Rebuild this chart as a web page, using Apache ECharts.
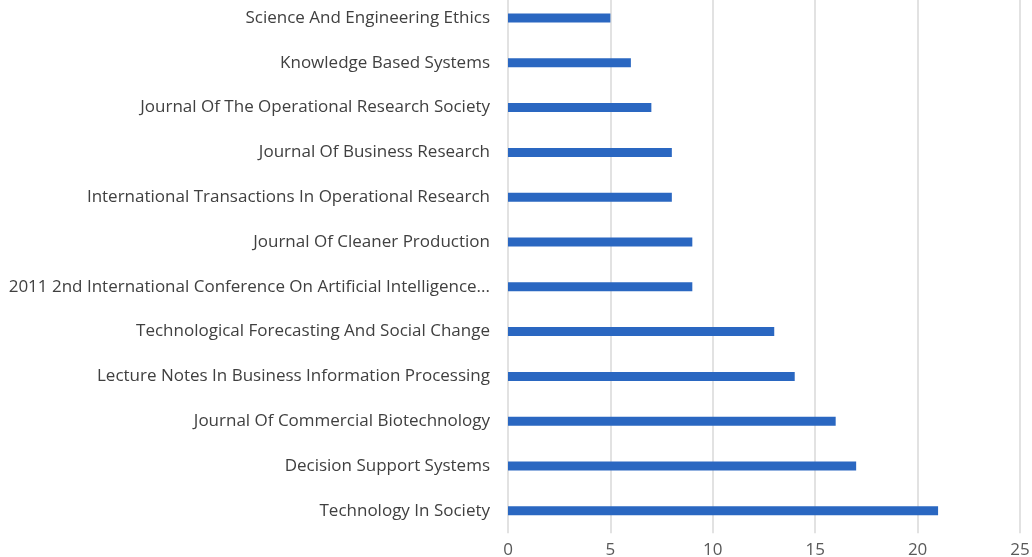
<!DOCTYPE html>
<html>
<head>
<meta charset="utf-8">
<script src="https://cdn.jsdelivr.net/npm/echarts@6/dist/echarts.min.js"></script>
<style>
  html, body { margin: 0; padding: 0; background: #fff; }
  #chart { width: 1032px; height: 557px; }
</style>
</head>
<body>
<div id="chart"></div>
<script>
// bottom to top, as the category axis draws them
const journals = [
  "Technology In Society",
  "Decision Support Systems",
  "Journal Of Commercial Biotechnology",
  "Lecture Notes In Business Information Processing",
  "Technological Forecasting And Social Change",
  "2011 2nd International Conference On Artificial Intelligence...",
  "Journal Of Cleaner Production",
  "International Transactions In Operational Research",
  "Journal Of Business Research",
  "Journal Of The Operational Research Society",
  "Knowledge Based Systems",
  "Science And Engineering Ethics"
];
const counts = [21, 17, 16, 14, 13, 9, 9, 8, 8, 7, 6, 5];
const xTicks = [0, 5, 10, 15, 20, 25];

const chart = echarts.init(document.getElementById("chart"));
chart.setOption({
  animation: false,
  grid: {
    left: 508,
    width: 512,
    top: -4.4,
    height: 537.6,
    containLabel: false,
    outerBoundsMode: "none"
  },
  xAxis: {
    type: "value",
    min: xTicks[0],
    max: xTicks[xTicks.length - 1],
    interval: 5,
    axisLine: { show: false },
    axisTick: { show: false },
    axisLabel: {
      color: "#595959",
      fontSize: 17,
      fontFamily: "Open Sans",
      margin: 8
    },
    splitLine: { lineStyle: { color: "#d9d9d9", width: 1.5 } }
  },
  yAxis: {
    type: "category",
    data: journals,
    axisLine: { show: false },
    axisTick: { show: false },
    axisLabel: {
      color: "#404040",
      fontSize: 17,
      fontFamily: "Open Sans",
      margin: 18
    }
  },
  series: [
    {
      type: "bar",
      data: counts,
      barWidth: 9,
      itemStyle: { color: "#2a67c1" }
    }
  ]
});
</script>
</body>
</html>
